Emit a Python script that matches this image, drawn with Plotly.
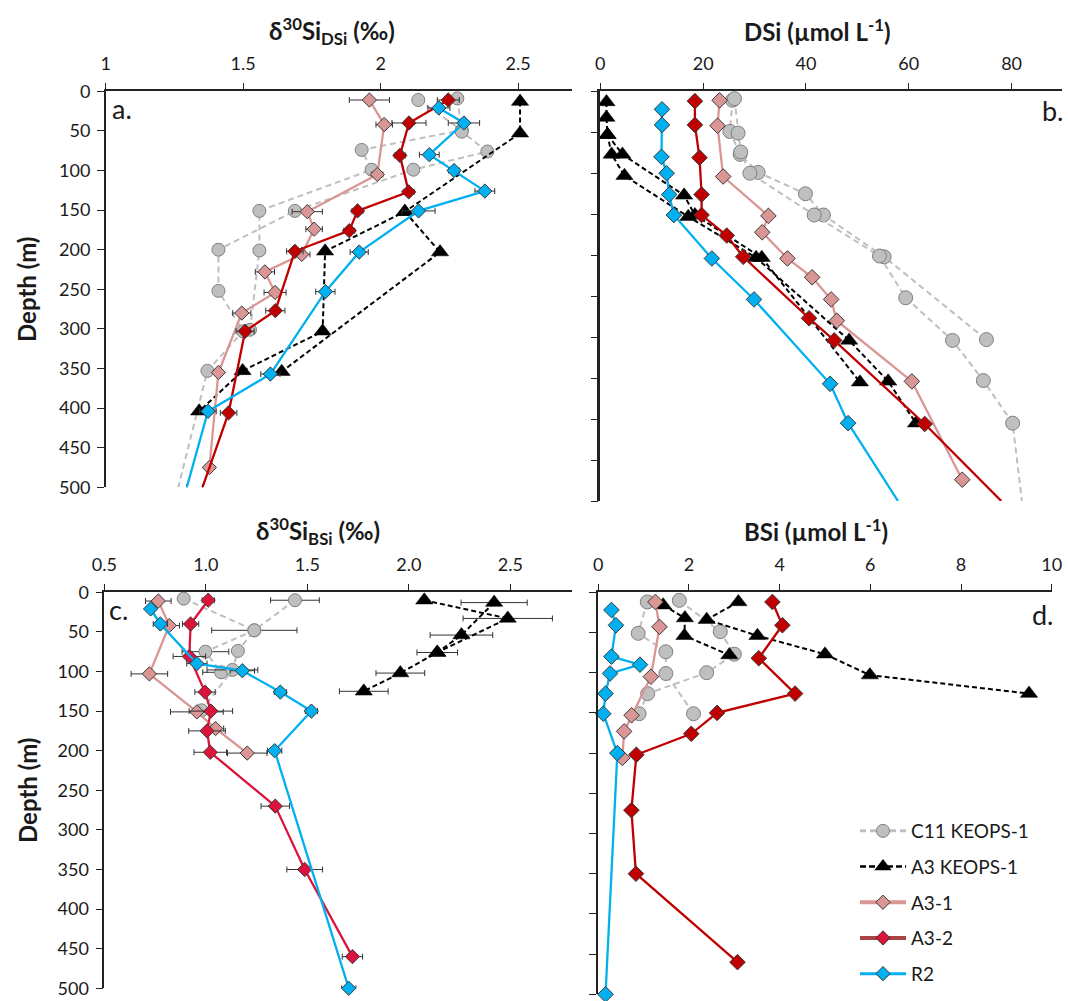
import plotly.graph_objects as go

W, H = 1068, 1001

# ---- panel a: d30Si DSi
a_c11_1_x = [2.279, 2.295, 2.388, 2.119, 1.688, 1.41, 1.41, 1.50, 1.37, 1.264]
a_c11_1_d = [9, 51, 76, 99, 151, 200, 252, 303, 353, 500]
a_c11_2_x = [2.137, 2.295, 1.931, 1.967, 1.559, 1.559, 1.525]
a_c11_2_d = [11, 49, 74, 99, 151, 201, 301]
a_k_1_x = [2.507, 2.507, 2.088, 1.798, 1.789, 1.498, 1.34]
a_k_1_d = [13, 53, 152, 202, 303, 353, 404]
a_k_2_x = [2.088, 2.216, 1.64]
a_k_2_d = [152, 203, 354]
a_a31_x = [1.959, 2.013, 1.988, 1.733, 1.758, 1.713, 1.579, 1.616, 1.495, 1.41, 1.377]
a_a31_d = [11, 42, 105, 152, 174, 206, 228, 254, 280, 355, 475]
a_a31_e = [0.073, 0.03, 0.02, 0.055, 0.03, 0.03, 0.035, 0.04, 0.033, None, None]
a_a32_x = [2.246, 2.103, 2.07, 2.102, 1.916, 1.886, 1.688, 1.617, 1.507, 1.447, 1.352]
a_a32_d = [11, 40, 81, 127, 151, 176, 202, 277, 303, 406, 500]
a_a32_e = [0.04, 0.062, 0.02, 0.02, 0.02, 0.02, 0.03, 0.035, 0.033, 0.03, None]
a_r2_x = [2.212, 2.303, 2.177, 2.267, 2.379, 2.138, 1.922, 1.799, 1.599, 1.372, 1.295]
a_r2_d = [21, 40, 80, 100, 126, 151, 203, 253, 357, 404, 500]
a_r2_e = [0.04, 0.057, 0.036, 0.02, 0.036, 0.06, 0.033, 0.035, 0.035, 0.03, None]

# ---- panel b: DSi
b_c11_1_x = [26.1, 26.8, 27.3, 29.1, 41.6, 54.3, 59.4, 68.5, 74.5, 80.2, 82]
b_c11_1_d = [9, 51, 74, 100, 151, 201, 252, 304, 353, 405, 500]
b_c11_2_x = [25.7, 25.2, 27.2, 30.7, 39.9, 43.4, 55.2, 75.1]
b_c11_2_d = [11, 49, 77, 99, 125, 151, 202, 303]
b_k_1_x = [1.2, 1.2, 1.4, 2.2, 4.7, 17.1, 30.3, 48.4, 56, 61.4]
b_k_1_d = [13, 32, 53, 77, 103, 153, 203, 304, 354, 405]
b_k_2_x = [1.4, 4.3, 16.3, 18.4, 31.4, 50.5]
b_k_2_d = [53, 77, 127, 151, 203, 355]
b_a31_x = [23.2, 22.8, 23.9, 32.7, 31.5, 36.4, 41.2, 44.9, 46, 60.6, 70.4]
b_a31_d = [11, 42, 104, 152, 172, 204, 227, 254, 280, 354, 474]
b_a32_x = [18.4, 18.4, 19.3, 19.7, 19.7, 24.6, 27.8, 40.6, 45.5, 63.1, 78]
b_a32_d = [12, 41, 81, 126, 151, 176, 202, 277, 304, 406, 500]
b_r2_x = [12, 12, 11.9, 12.9, 13.4, 14.3, 21.7, 29.9, 44.7, 48.2, 57.9]
b_r2_d = [22, 41, 80, 100, 126, 151, 204, 254, 357, 405, 500]

# ---- panel c: d30Si BSi
c_c11_1_x = [0.891, 1.239, 1.158, 1.131, 0.979]
c_c11_1_d = [8, 48, 74, 98, 149]
c_c11_1_e = [None, None, None, 0.125, None]
c_c11_2_x = [1.439, 1.239, 0.998, 1.075]
c_c11_2_d = [10, 48, 75, 101]
c_c11_2_e = [0.12, 0.21, 0.115, 0.09]
c_k_1_x = [2.076, 2.487, 2.14, 1.958, 1.778]
c_k_1_d = [10, 33, 76, 102, 125]
c_k_1_e = [None, 0.22, 0.1, 0.12, 0.12]
c_k_2_x = [2.42, 2.259, 2.14]
c_k_2_d = [13, 54, 76]
c_k_2_e = [0.163, 0.154, None]
c_a31_x = [0.766, 0.82, 0.722, 0.956, 1.048, 1.204]
c_a31_d = [11, 42, 103, 151, 172, 203]
c_a31_e = [0.063, 0.05, 0.09, 0.13, 0.04, 0.097]
c_a32_x = [1.012, 0.925, 0.919, 0.996, 1.025, 1.006, 1.022, 1.342, 1.487, 1.722]
c_a32_d = [10, 40, 81, 126, 150, 175, 202, 270, 350, 460]
c_a32_e = [0.03, 0.04, 0.08, 0.05, 0.107, 0.09, 0.08, 0.07, 0.088, 0.05]
c_r2_x = [0.728, 0.776, 0.956, 1.18, 1.367, 1.52, 1.339, 1.704]
c_r2_d = [21, 40, 90, 99, 126, 150, 200, 500]
c_r2_e = [0.02, 0.035, 0.05, 0.06, 0.03, 0.03, 0.035, 0.035]

# ---- panel d: BSi
d_c11_1_x = [1.787, 2.69, 3.0, 2.39, 1.09, 0.9]
d_c11_1_d = [10, 49, 77, 100, 126, 151]
d_c11_2_x = [1.08, 0.88, 1.49, 1.49, 2.1]
d_c11_2_d = [12, 51, 74, 101, 151]
d_k_1_x = [3.09, 2.39, 3.51, 5.0, 5.99, 9.5]
d_k_1_d = [12, 34, 54, 77, 103, 126]
d_k_2_x = [1.43, 1.91, 1.9, 2.89]
d_k_2_d = [16, 32, 54, 78]
d_a31_x = [1.26, 1.35, 1.16, 0.735, 0.57, 0.53]
d_a31_d = [12, 43, 105, 153, 173, 206]
d_a32_x = [3.84, 4.06, 3.54, 4.34, 2.62, 2.05, 0.84, 0.73, 0.83, 3.07]
d_a32_d = [12, 41, 82, 126, 150, 176, 202, 271, 350, 460]
d_r2_x = [0.29, 0.39, 0.29, 0.92, 0.26, 0.16, 0.11, 0.42, 0.16]
d_r2_d = [22, 41, 80, 90, 101, 126, 151, 200, 500]

GREY, GREY_EDGE = "#bfbfbf", "#7f7f7f"
PINK = "#d99694"
DARKRED = "#c00000"
CRIMSON = "#dc143c"
BLUE = "#00b0f0"
EDGE = "#3a3a3a"
TXT = "#1a1a1a"
FONT = "Lato"


def px_x(p):
    return p / W


def px_y(p):
    return 1 - p / H


fig = go.Figure()


def add_series(ax, x, d, kind, msize, err=None, fill=None, open_end=False):
    # open_end: the profile runs off the bottom of the axis, so no marker on the last point
    xa = "x" if ax == 1 else f"x{ax}"
    ya = "y" if ax == 1 else f"y{ax}"
    if kind == "c11":
        ms = msize + 2
        line = dict(color=GREY, width=2, dash="6px,4px")
        marker = dict(symbol="circle", color=GREY, line=dict(color=GREY_EDGE, width=1))
    elif kind == "k":
        ms = msize + 4
        line = dict(color="black", width=2, dash="5px,3px")
        marker = dict(symbol="triangle-up", color="black", line=dict(color="black", width=0.5))
    else:
        ms = msize
        col = fill or {"a31": PINK, "a32": DARKRED, "r2": BLUE}[kind]
        line = dict(color=col, width=2.3)
        marker = dict(symbol="diamond", color=col, line=dict(color=EDGE, width=1))
    marker["size"] = [ms] * (len(x) - 1) + [0 if open_end else ms]
    marker["opacity"] = 1
    tr = dict(x=x, y=d, mode="lines+markers", line=line, marker=marker, xaxis=xa, yaxis=ya,
              showlegend=False, cliponaxis=False, hoverinfo="skip")
    if err is not None:
        tr["error_x"] = dict(type="data", array=err, visible=True, color="#333333", thickness=1, width=3)
    fig.add_trace(go.Scatter(**tr))


# panel a
add_series(1, a_c11_2_x, a_c11_2_d, "c11", 11)
add_series(1, a_c11_1_x, a_c11_1_d, "c11", 11, open_end=True)
add_series(1, a_k_2_x, a_k_2_d, "k", 11)
add_series(1, a_k_1_x, a_k_1_d, "k", 11)
add_series(1, a_a31_x, a_a31_d, "a31", 11, a_a31_e)
add_series(1, a_a32_x, a_a32_d, "a32", 11, a_a32_e, open_end=True)
add_series(1, a_r2_x, a_r2_d, "r2", 11, a_r2_e, open_end=True)
# panel b
add_series(2, b_c11_2_x, b_c11_2_d, "c11", 12)
add_series(2, b_c11_1_x, b_c11_1_d, "c11", 12, open_end=True)
add_series(2, b_k_2_x, b_k_2_d, "k", 11)
add_series(2, b_k_1_x, b_k_1_d, "k", 11)
add_series(2, b_a31_x, b_a31_d, "a31", 12)
add_series(2, b_a32_x, b_a32_d, "a32", 12, open_end=True)
add_series(2, b_r2_x, b_r2_d, "r2", 12, open_end=True)
# panel c
add_series(3, c_c11_2_x, c_c11_2_d, "c11", 11, c_c11_2_e)
add_series(3, c_c11_1_x, c_c11_1_d, "c11", 11, c_c11_1_e)
add_series(3, c_k_2_x, c_k_2_d, "k", 11, c_k_2_e)
add_series(3, c_k_1_x, c_k_1_d, "k", 11, c_k_1_e)
add_series(3, c_a31_x, c_a31_d, "a31", 11, c_a31_e)
add_series(3, c_a32_x, c_a32_d, "a32", 11, c_a32_e, fill=CRIMSON)
add_series(3, c_r2_x, c_r2_d, "r2", 11, c_r2_e)
# panel d
add_series(4, d_c11_2_x, d_c11_2_d, "c11", 12)
add_series(4, d_c11_1_x, d_c11_1_d, "c11", 12)
add_series(4, d_k_2_x, d_k_2_d, "k", 11)
add_series(4, d_k_1_x, d_k_1_d, "k", 11)
add_series(4, d_a31_x, d_a31_d, "a31", 12)
add_series(4, d_a32_x, d_a32_d, "a32", 12)
add_series(4, d_r2_x, d_r2_d, "r2", 12)

# legend-only entries, one group each so the gap between rows can be set
legend_items = [
    ("C11 KEOPS-1", dict(color=GREY, width=3, dash="6px,4px"),
     dict(symbol="circle", size=13, color=GREY, line=dict(color=GREY_EDGE, width=1))),
    ("A3 KEOPS-1", dict(color="black", width=2.5, dash="6px,3px"),
     dict(symbol="triangle-up", size=15, color="black")),
    ("A3-1", dict(color=PINK, width=4),
     dict(symbol="diamond", size=11, color=PINK, line=dict(color=EDGE, width=1))),
    ("A3-2", dict(color="#a94442", width=4),
     dict(symbol="diamond", size=11, color=CRIMSON, line=dict(color=EDGE, width=1))),
    ("R2", dict(color=BLUE, width=3),
     dict(symbol="diamond", size=11, color=BLUE, line=dict(color=EDGE, width=1))),
]
for name, ln, mk in legend_items:
    fig.add_trace(go.Scatter(x=[None], y=[None], name=name, mode="lines+markers", line=ln, marker=mk,
                             xaxis="x4", yaxis="y4", legendgroup=name, showlegend=True))


def x_axis(left, right, rng, anchor, **kw):
    return dict(domain=[px_x(left), px_x(right)], range=rng, side="top", anchor=anchor, automargin=False,
                showgrid=False, zeroline=False, showline=True, linecolor="#222222", linewidth=1.5,
                ticks="outside", ticklen=7, tickcolor="#222222", tickwidth=1.2,
                tickfont=dict(family=FONT, size=18, color=TXT), ticklabelstandoff=5, **kw)


def y_axis(top, bottom, anchor, labels, lw):
    return dict(domain=[px_y(bottom), px_y(top)], range=[500, 0], anchor=anchor, side="left", automargin=False,
                showgrid=False, zeroline=False, showline=True, linecolor="#222222", linewidth=lw,
                ticks="outside", ticklen=7, tickcolor="#222222", tickwidth=1.2, tick0=0, dtick=50,
                showticklabels=labels, tickfont=dict(family=FONT, size=18, color=TXT),
                ticklabelstandoff=3)


def label(x, y, text, size, bold=False, angle=0):
    return dict(x=px_x(x), y=px_y(y), xref="paper", yref="paper", text=f"<b>{text}</b>" if bold else text,
                showarrow=False, xanchor="center", yanchor="middle", textangle=angle,
                font=dict(family=FONT, size=size, color=TXT))


annotations = [
    label(332, 31, "δ<sup>30</sup>Si<sub>DSi</sub> (‰)", 24, True),
    label(817, 30, "DSi (µmol L<sup>-1</sup>)", 24, True),
    label(318, 531, "δ<sup>30</sup>Si<sub>BSi</sub> (‰)", 24, True),
    label(816, 530, "BSi (µmol L<sup>-1</sup>)", 24, True),
    label(27, 290, "Depth (m)", 24, True, -90),
    label(27, 791, "Depth (m)", 24, True, -90),
    label(122, 108, "a.", 27),
    label(1053, 110, "b.", 27),
    label(118, 609, "c.", 27),
    label(1043, 614, "d.", 27),
]

fig.update_layout(
    width=W, height=H, autosize=False,
    margin=dict(l=0, r=0, t=0, b=0),
    paper_bgcolor="white", plot_bgcolor="white",
    xaxis=x_axis(105.7, 572, [1, 2.696], "y", tick0=1, dtick=0.5),
    yaxis=y_axis(91.3, 487.3, "x", True, 1.5),
    xaxis2=x_axis(600.3, 1062, [0, 89.8], "y2", tick0=0, dtick=20),
    yaxis2=y_axis(91.3, 501, "x2", False, 2.5),
    xaxis3=x_axis(104.3, 571.7, [0.5, 2.802], "y3", tick0=0.5, dtick=0.5, tickformat=".1f"),
    yaxis3=y_axis(592.3, 988.3, "x3", True, 1.5),
    xaxis4=x_axis(598.3, 1051.7, [0, 10], "y4", tick0=0, dtick=2),
    yaxis4=y_axis(592.3, 994.3, "x4", False, 2),
    annotations=annotations,
    showlegend=True,
    legend=dict(x=px_x(855), y=px_y(812), xanchor="left", yanchor="top", bgcolor="rgba(0,0,0,0)",
                font=dict(family=FONT, size=19, color=TXT), itemwidth=46, tracegroupgap=8,
                itemclick=False, itemdoubleclick=False),
)

fig.write_html("out.html", config={"displayModeBar": False},
               post_script="document.body.style.margin='0';")
